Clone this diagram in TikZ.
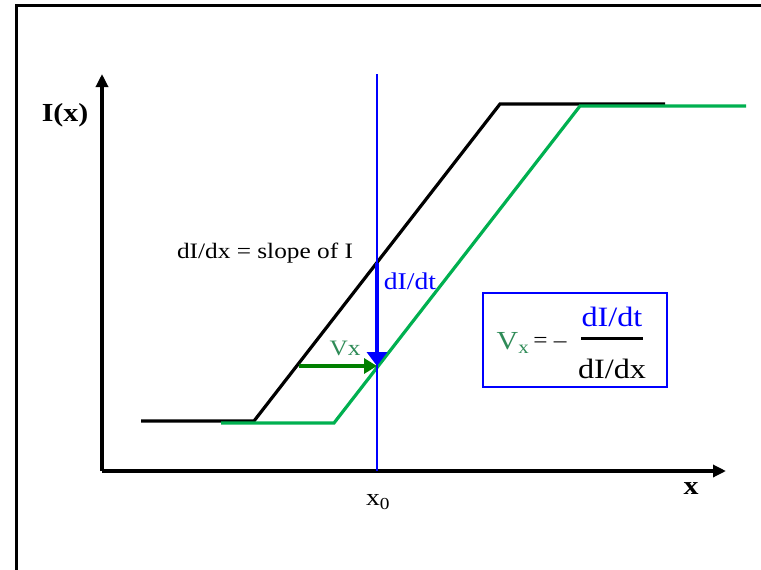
\documentclass[tikz,border=0pt]{standalone}
\usepackage{fontspec}
\setmainfont{Liberation Serif}[FakeStretch=1.15]
\usetikzlibrary{arrows.meta,positioning}

\definecolor{lineblue}{RGB}{0,0,255}
\definecolor{shiftgreen}{RGB}{0,176,80}
\definecolor{arrowgreen}{RGB}{0,128,0}
\definecolor{labelgreen}{RGB}{46,139,87}

\begin{document}
\begin{tikzpicture}[
    x=1pt, y=-1pt,
    >={Triangle[length=13pt,width=12pt]},
    axis/.style={->, line width=3.2pt, color=black},
    profile/.style={line width=3.2pt, line join=miter},
    marker/.style={line width=2.2pt, color=lineblue},
    label/.style={inner sep=0pt, font=\fontsize{22}{26}\selectfont},
    axislabel/.style={inner sep=0pt, font=\fontsize{26}{30}\selectfont\bfseries},
    formula/.style={rectangle, draw=lineblue, line width=2.4pt, minimum width=184pt, minimum height=94pt}
]

\useasboundingbox (0,0) rectangle (761,570);
\clip (0,0) rectangle (761,570);

% Outer frame
\draw[line width=3pt] (16,600) -- (16,5) -- (790,5);

% Axes
\coordinate (origin) at (102,471);
\coordinate (ytip) at (102,74);
\coordinate (xtip) at (726,471);
\draw[axis] (origin) -- (ytip);
\draw[axis] (origin) -- (xtip);
\node[axislabel] (ylabel) at (65,115) {I(x)};
\node[axislabel] (xlabel) at (691,489) {x};

% Intensity profile at time t (black) and a moment later (green)
\draw[profile] (141,421) -- (254,421) -- (500,104) -- (665,104);
\draw[profile, shiftgreen] (221,423) -- (334,423) -- (580,106) -- (746,106);

% Fixed position x0
\coordinate (x0top) at (377,74);
\coordinate (x0base) at (377,471);
\draw[marker] (x0top) -- (x0base);
\node[label, font=\fontsize{24}{28}\selectfont] (x0label) at (378,502) {x\textsubscript{0}};

% Change of I at x0 and displacement of the profile
\coordinate (hitblack) at (377,263);
\coordinate (hitgreen) at (377,366);
\coordinate (leftblack) at (299,366);
\draw[->, line width=4.5pt, lineblue, >={Triangle[length=14pt,width=20pt]}] (hitblack) -- (hitgreen);
\draw[->, line width=4.5pt, arrowgreen, >={Triangle[length=13pt,width=15pt]}] (leftblack) -- (hitgreen);

\node[label] (slope) at (265,253) {dI/dx = slope of I};
\node[label, lineblue, font=\fontsize{24}{28}\selectfont] (dIdt) at (410,281) {dI/dt};
\node[label, labelgreen] (vx) at (345,348) {Vx};

% Formula box
\node[formula] (box) at (575,340) {};
\node[label, labelgreen, font=\fontsize{26}{30}\selectfont] (vsub) at (513,343) {V\textsubscript{x}};
\node[label] (eq) at (550,342) {= –};
\node[label, lineblue, font=\fontsize{28}{32}\selectfont] (num) at (612,317) {dI/dt};
\node[label, font=\fontsize{28}{32}\selectfont] (den) at (612,369) {dI/dx};
\draw[line width=3pt] (num.south west |- 0,338) -- (num.south east |- 0,338);

\end{tikzpicture}
\end{document}
